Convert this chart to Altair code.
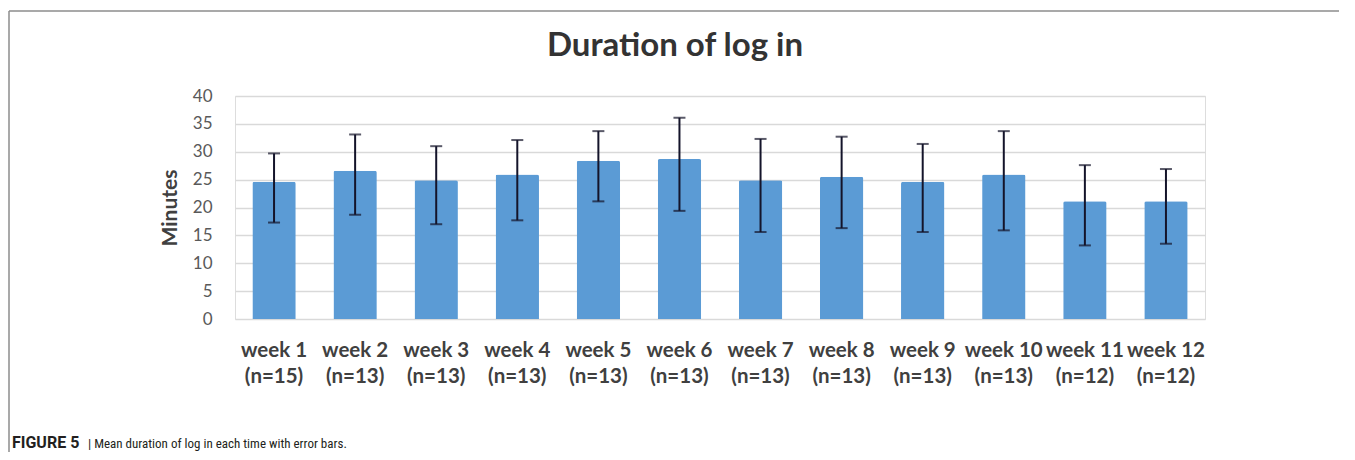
import altair as alt
import pandas as pd

weeks = ["week 1", "week 2", "week 3", "week 4", "week 5", "week 6",
         "week 7", "week 8", "week 9", "week 10", "week 11", "week 12"]
counts = [15, 13, 13, 13, 13, 13, 13, 13, 13, 13, 12, 12]
means = [24.6, 26.6, 24.9, 25.9, 28.4, 28.7, 24.9, 25.5, 24.6, 25.9, 21.1, 21.1]
upper = [29.7, 33.1, 31.0, 32.1, 33.7, 36.1, 32.3, 32.7, 31.4, 33.7, 27.6, 26.9]
lower = [17.3, 18.7, 17.0, 17.7, 21.1, 19.4, 15.6, 16.3, 15.6, 15.9, 13.2, 13.5]
y_ticks = [0, 5, 10, 15, 20, 25, 30, 35, 40]

title_text = "Duration of log in"
y_title = "Minutes"
caption_bold = "FIGURE 5"
caption_rest = "| Mean duration of log in each time with error bars."

labels = [f"{w}|(n={n})" for w, n in zip(weeks, counts)]
df = pd.DataFrame({"week": labels, "mean": means, "upper": upper, "lower": lower})

FONT = "Lato"
CAP_FONT = "Liberation Sans Narrow, Roboto Condensed, DejaVu Sans Condensed, Roboto"

x_axis = alt.Axis(labelExpr="split(datum.label, '|')", labelAngle=0,
                  labelFont=FONT, labelFontSize=20.5, labelFontWeight="bold",
                  labelColor="#404040", labelLineHeight=26, labelPadding=21,
                  domain=False, ticks=False, labelBaseline="top")
x_scale = alt.Scale(paddingInner=0.465, paddingOuter=0.214)
y_axis = alt.Axis(values=y_ticks, grid=True, gridColor="#d9d9d9", gridWidth=1.4,
                  domain=False, ticks=False, labelOverlap=False,
                  labelFont=FONT, labelFontSize=17, labelColor="#595959", labelPadding=23,
                  titleFont=FONT, titleFontSize=21, titleFontWeight="bold",
                  titleColor="#404040", titlePadding=12)
y_scale = alt.Scale(domain=[0, 40], nice=False)


def xe():
    return alt.X("week:N", sort=labels, title=None, scale=x_scale, axis=x_axis)


def ye(field):
    return alt.Y(field, title=y_title, scale=y_scale, axis=y_axis)


bars = alt.Chart(df).mark_bar(color="#5B9BD5", cornerRadiusTopLeft=2, cornerRadiusTopRight=2).encode(
    x=xe(), y=ye("mean:Q"))

err = alt.Chart(df).mark_rule(color="#14142a", strokeWidth=2).encode(
    x=xe(), y=ye("lower:Q"), y2="upper:Q")
cap_hi = alt.Chart(df).mark_tick(color="#14142a", thickness=2, size=12).encode(
    x=xe(), y=ye("upper:Q"))
cap_lo = alt.Chart(df).mark_tick(color="#14142a", thickness=2, size=12).encode(
    x=xe(), y=ye("lower:Q"))

one = pd.DataFrame({"t": [title_text]})
title = alt.Chart(one).mark_text(font=FONT, fontSize=33, fontWeight="bold", color="#333333",
                                 align="center", baseline="alphabetic").encode(
    text="t:N", x=alt.value(440), y=alt.value(-40))

cap1 = alt.Chart(pd.DataFrame({"t": [caption_bold]})).mark_text(
    font="Roboto", fontSize=16, fontWeight="bold", color="#231f20",
    align="left", baseline="alphabetic").encode(text="t:N", x=alt.value(-223), y=alt.value(352))
cap2 = alt.Chart(pd.DataFrame({"t": [caption_rest]})).mark_text(
    font=CAP_FONT, fontSize=13, color="#231f20",
    align="left", baseline="alphabetic").encode(text="t:N", x=alt.value(-147), y=alt.value(352))

frame_left = alt.Chart(one).mark_rule(color="#8c8c8c", strokeWidth=1.5).encode(
    x=alt.value(-226), y=alt.value(-85), y2=alt.value(360))
frame_top = alt.Chart(one).mark_rule(color="#8c8c8c", strokeWidth=1.5).encode(
    x=alt.value(-226), x2=alt.value(1111), y=alt.value(-85))
frame_right = alt.Chart(one).mark_rule(color="#d6d6d6", strokeWidth=1.5).encode(
    x=alt.value(1110), y=alt.value(-85), y2=alt.value(360))

chart = alt.layer(bars, err, cap_hi, cap_lo, title, cap1, cap2, frame_left, frame_top, frame_right).properties(
    width=970, height=223,
    autosize=alt.AutoSizeParams(type="none"),
    padding={"left": 227, "top": 88, "right": 134, "bottom": 133},
).configure_view(stroke=None).configure(background="white")

chart.save("out.html", embed_options={"renderer": "svg", "actions": False})
